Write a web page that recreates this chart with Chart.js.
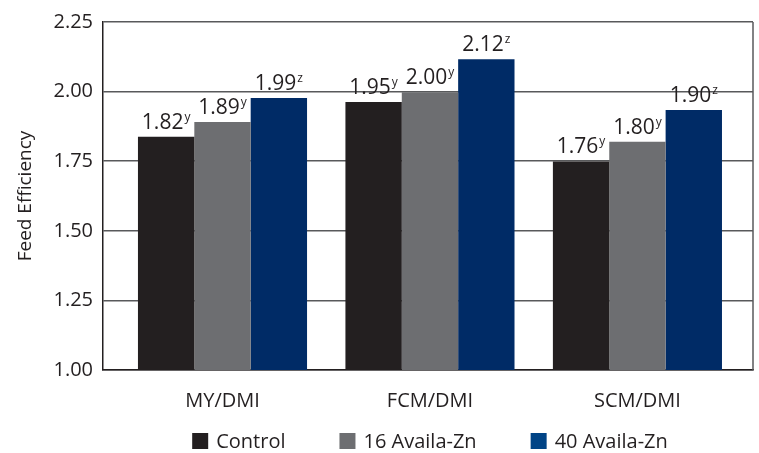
<!DOCTYPE html>
<html>
<head>
<meta charset="utf-8">
<script src="https://cdn.jsdelivr.net/npm/chart.js@4/dist/chart.umd.min.js"></script>
<style>
html,body{margin:0;padding:0;background:#fff;}
#wrap{width:759px;height:453px;}
</style>
</head>
<body>
<div id="wrap"><canvas id="c" width="759" height="453"></canvas></div>
<script>
const categories = ["MY/DMI", "FCM/DMI", "SCM/DMI"];
const seriesNames = ["Control", "16 Availa-Zn", "40 Availa-Zn"];
const controlValues = [1.838, 1.963, 1.749];
const zn16Values = [1.891, 1.998, 1.820];
const zn40Values = [1.977, 2.116, 1.934];
const controlLabels = ["1.82", "1.95", "1.76"];
const zn16Labels = ["1.89", "2.00", "1.80"];
const zn40Labels = ["1.99", "2.12", "1.90"];
const controlSup = ["y", "y", "y"];
const zn16Sup = ["y", "y", "y"];
const zn40Sup = ["z", "z", "z"];
const yTicks = [1.00, 1.25, 1.50, 1.75, 2.00, 2.25];
const legendColors = ["#231f20", "#6d6e71", "#004486"];

const FONT = "'Open Sans', 'Noto Sans', sans-serif";
const TEXT = "#231f20";

function pts(vals){ return vals.map((v,i)=>({x:i, y:v})); }

const labelSets = [controlLabels, zn16Labels, zn40Labels];
const supSets = [controlSup, zn16Sup, zn40Sup];

const frame = {
  id: 'frame',
  afterDraw(chart){
    const a = chart.chartArea, ctx = chart.ctx;
    ctx.save();
    ctx.strokeStyle = "#58595b";
    ctx.lineWidth = 1.5;
    ctx.beginPath();
    ctx.moveTo(a.right, a.top);
    ctx.lineTo(a.right, a.bottom);
    ctx.stroke();
    ctx.restore();
  }
};

const barLabels = {
  id: 'barLabels',
  afterDatasetsDraw(chart){
    const ctx = chart.ctx;
    ctx.save();
    chart.data.datasets.forEach((ds, di) => {
      const meta = chart.getDatasetMeta(di);
      meta.data.forEach((bar, i) => {
        const main = labelSets[di][i];
        const sup = supSets[di][i];
        ctx.font = "21px " + FONT;
        const w1 = ctx.measureText(main).width;
        ctx.font = "12px " + FONT;
        const w2 = ctx.measureText(sup).width;
        const total = w1 + w2 + 1;
        const x0 = bar.x - total/2;
        const yb = bar.y - 8;
        ctx.fillStyle = TEXT;
        ctx.textBaseline = "alphabetic";
        ctx.textAlign = "left";
        ctx.font = "21px " + FONT;
        ctx.fillText(main, x0, yb);
        ctx.font = "12px " + FONT;
        ctx.fillText(sup, x0 + w1 + 1, yb - 8);
      });
    });
    ctx.restore();
  }
};

const customLegend = {
  id: 'customLegend',
  afterDraw(chart){
    const ctx = chart.ctx;
    ctx.save();
    ctx.font = "20px " + FONT;
    const box = 16, gapText = 8, gapItem = 54;
    const items = chart.data.datasets.map((d,i)=>({text:d.label, color:legendColors[i], w: box + gapText + ctx.measureText(d.label).width}));
    const total = items.reduce((s,it)=>s+it.w,0) + gapItem*(items.length-1);
    let x = 430 - total/2;
    const cy = 441;
    items.forEach(it=>{
      ctx.fillStyle = it.color;
      ctx.fillRect(x, cy - box/2, box, box);
      ctx.fillStyle = TEXT;
      ctx.textBaseline = "middle";
      ctx.textAlign = "left";
      ctx.fillText(it.text, x + box + gapText, cy + 1);
      x += it.w + gapItem;
    });
    ctx.restore();
  }
};

new Chart(document.getElementById('c'), {
  type: 'bar',
  data: {
    datasets: [
      {label: seriesNames[0], data: pts(controlValues), backgroundColor: "#231f20"},
      {label: seriesNames[1], data: pts(zn16Values), backgroundColor: "#6d6e71"},
      {label: seriesNames[2], data: pts(zn40Values), backgroundColor: "#002b66"}
    ]
  },
  options: {
    responsive: false,
    animation: false,
    devicePixelRatio: 1,
    categoryPercentage: 0.815,
    barPercentage: 1.0,
    layout: {padding: {left: 0, right: 6, top: 17, bottom: 37}},
    plugins: {
      legend: {display: false},
      tooltip: {enabled: false}
    },
    scales: {
      x: {
        type: 'linear',
        min: -0.576,
        max: 2.557,
        offset: false,
        grid: {display: false, drawTicks: false},
        border: {display: true, color: "#231f20", width: 1.5},
        afterBuildTicks(scale){ scale.ticks = categories.map((c,i)=>({value:i})); },
        afterFit(scale){ scale.height = 46; },
        ticks: {
          padding: 19,
          color: TEXT,
          font: {family: FONT, size: 20},
          callback: (v) => categories[Math.round(v)]
        }
      },
      y: {
        min: 1.0,
        max: 2.25,
        afterBuildTicks(scale){ scale.ticks = yTicks.map(v=>({value:v})); },
        afterFit(scale){ scale.width = 103; },
        grid: {color: "#58595b", lineWidth: 1.5, drawTicks: false},
        border: {display: true, color: "#231f20", width: 1.5},
        ticks: {
          padding: 10,
          color: TEXT,
          font: {family: FONT, size: 20},
          callback: (v) => Number(v).toFixed(2)
        },
        title: {
          display: true,
          text: "Feed Efficiency",
          color: TEXT,
          font: {family: FONT, size: 19},
          padding: {top: 14, bottom: 0}
        }
      }
    }
  },
  plugins: [frame, barLabels, customLegend]
});
</script>
</body>
</html>
